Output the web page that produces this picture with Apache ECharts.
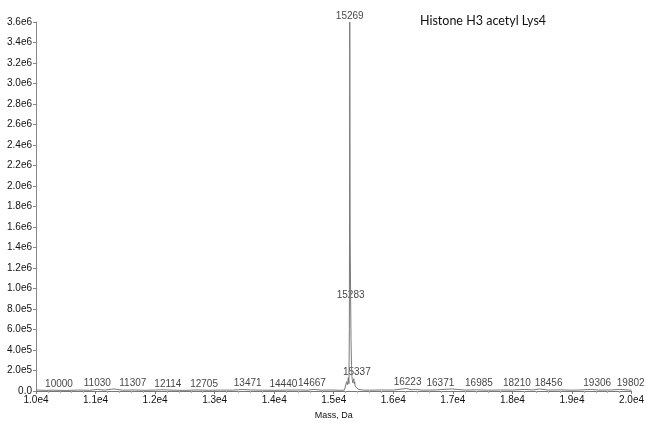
<!DOCTYPE html>
<html><head><meta charset="utf-8">
<script src="https://cdn.jsdelivr.net/npm/echarts@6/dist/echarts.min.js"></script>
<style>html,body{margin:0;padding:0;background:#fff}#c{width:647px;height:425px}</style>
</head><body><div id="c"></div>
<script>
// Deconvoluted mass spectrum (Mass, Da vs intensity)
const masses = [10000,10150,10300,10500,10700,10900,11030,11150,11307,11450,11650,11850,12000,12114,12300,12500,12705,12900,13100,13300,13471,13600,13800,14000,14200,14440,14550,14667,14800,14950,15100,15180,15200,15215,15230,15245,15255,15262,15266,15269,15272,15276,15283,15290,15298,15305,15312,15320,15328,15337,15345,15352,15360,15370,15385,15400,15420,15450,15500,15600,15800,16000,16223,16300,16371,16500,16700,16985,17200,17400,17600,17800,18000,18210,18350,18456,18600,18800,19000,19150,19306,19450,19650,19802,20000];
const intensity = [10000,6000,8000,5000,9000,7000,15000,9000,20000,8000,10000,7000,9000,12000,8000,6000,10000,7000,9000,8000,15000,10000,8000,7000,9000,10000,8000,15000,8000,10000,7000,9000,20000,90000,60000,130000,70000,600000,2000000,3600000,2600000,1500000,930000,500000,250000,140000,110000,80000,100000,120000,70000,90000,50000,60000,30000,40000,15000,12000,9000,8000,10000,9000,25000,12000,15000,8000,10000,20000,9000,11000,8000,10000,9000,15000,10000,20000,9000,11000,8000,10000,15000,9000,10000,15000,8000];
const labelMasses = [10000,11030,11307,12114,12705,13471,14440,14667,15269,15283,15337,16223,16371,16985,18210,18456,19306,19802];
const labelIntensity = [10000,15000,20000,12000,10000,15000,10000,15000,3600000,930000,120000,25000,15000,20000,15000,20000,15000,15000];
const yTicks = [0,200000,400000,600000,800000,1000000,1200000,1400000,1600000,1800000,2000000,2200000,2400000,2600000,2800000,3000000,3200000,3400000,3600000];
const title = 'Histone H3 acetyl Lys4';
// label horizontal shifts (style only, px)
const labelShift = [23,0,19,6,7,5,-17,-2,0,0,3,1,25,27,-8,9,7,11];

function fmtY(v){
  if (v===0) return '0.0';
  const e = Math.floor(Math.log10(v)+1e-9);
  return (v/Math.pow(10,e)).toFixed(1)+'e'+e;
}
const chart = echarts.init(document.getElementById('c'));
const lineData = masses.map((m,i)=>[m,intensity[i]]);
const lblData = labelMasses.map((m,i)=>{
  const inside = (m===15283);
  return {
    value:[m,labelIntensity[i]],
    label:{
      position: inside ? 'inside' : 'top',
      distance: 1,
      offset:[labelShift[i],0]
    }
  };
});
chart.setOption({
  animation:false,
  backgroundColor:'#fff',
  grid:{left:36,right:15,top:22,bottom:32},
  title:{text:title,left:415,top:9,textStyle:{fontFamily:'Lato',fontSize:12.5,fontWeight:'normal',color:'#111'}},
  xAxis:{
    type:'value',min:10000,max:20000,interval:1000,
    name:'Mass, Da',nameLocation:'middle',nameGap:20,
    nameTextStyle:{fontFamily:'Liberation Sans',fontSize:9,color:'#111'},
    axisLine:{lineStyle:{color:'#777',width:1}},
    axisTick:{length:3,lineStyle:{color:'#777'}},
    minorTick:{show:true,splitNumber:5,length:2,lineStyle:{color:'#aaa'}},
    splitLine:{show:false},
    axisLabel:{fontFamily:'Liberation Sans',fontSize:10,color:'#111',margin:4,
      formatter:v=>(v/10000).toFixed(1)+'e4'}
  },
  yAxis:{
    type:'value',min:0,max:3600000,interval:200000,
    axisLine:{show:true,lineStyle:{color:'#888',width:1}},
    axisTick:{show:true,length:3,lineStyle:{color:'#888'}},
    splitLine:{show:false},
    axisLabel:{fontFamily:'Liberation Sans',fontSize:10,color:'#111',margin:4,
      formatter:v=>yTicks.indexOf(v)>=0?fmtY(v):''}
  },
  series:[
    {type:'line',data:lineData,symbol:'none',lineStyle:{color:'#7a7a7a',width:1},silent:true},
    {type:'scatter',data:lblData,symbolSize:0,silent:true,
      label:{show:true,fontFamily:'Liberation Sans',fontSize:10,color:'#111',
        formatter:p=>String(p.value[0])}}
  ]
});
</script></body></html>
